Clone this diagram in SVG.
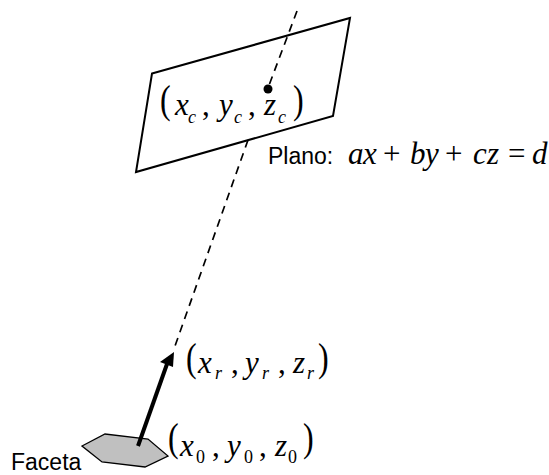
<svg xmlns="http://www.w3.org/2000/svg" width="549" height="475" viewBox="0 0 549 475">
<style>
.m{font-family:"Liberation Serif",serif;font-style:italic;font-size:31px;fill:#000}
.s{font-size:18px}
.n{font-style:normal}
.p{font-family:"Liberation Serif",serif;font-size:40px;fill:#000}
.l{font-family:"Liberation Sans",sans-serif;font-size:23px;fill:#000}
.d{fill:none;stroke:#000;stroke-width:1.700;stroke-dasharray:8 6}
</style>
<rect width="549" height="475" fill="#fff"/>
<g id="plano">
<polygon points="152,73.500 350,18 333,116 136,172" fill="#fff" stroke="#000" stroke-width="2"/>
<text class="p" transform="translate(160 113) scale(.8 1)">(</text>
<text class="m" x="175" y="115">x</text><text class="m s" x="188" y="123">c</text><text class="m n" x="202" y="115">,</text>
<text class="m" x="219" y="115">y</text><text class="m s" x="234" y="123">c</text><text class="m n" x="248" y="115">,</text>
<text class="m" x="264" y="115">z</text><text class="m s" x="278" y="123">c</text>
<text class="p" transform="translate(293 113) scale(.8 1)">)</text>
<text class="l" x="268" y="164">Plano:</text>
<text class="m" y="164" x="348 363">ax<tspan class="n" x="383">+</tspan><tspan x="410 425">by</tspan><tspan class="n" x="445">+</tspan><tspan x="473 487">cz</tspan><tspan class="n" x="508">=</tspan><tspan x="532">d</tspan></text>
</g>
<g id="faceta">
<polygon points="82,446 105,434 148,439 168,456 145,467 102,462" fill="#c0c0c0" stroke="#000" stroke-width="1.300"/>
<text class="l" x="11" y="470">Faceta</text>
<text class="p" transform="translate(168 451) scale(.8 1)">(</text>
<text class="m" x="180" y="456">x</text><text class="m s n" x="196" y="463">0</text><text class="m n" x="212" y="456">,</text>
<text class="m" x="227" y="456">y</text><text class="m s n" x="244" y="463">0</text><text class="m n" x="259" y="456">,</text>
<text class="m" x="275" y="456">z</text><text class="m s n" x="288" y="463">0</text>
<text class="p" transform="translate(303 451) scale(.8 1)">)</text>
</g>
<g id="vector-label">
<text class="p" transform="translate(186 371) scale(.8 1)">(</text>
<text class="m" x="198" y="373">x</text><text class="m s" x="215" y="379">r</text><text class="m n" x="231" y="373">,</text>
<text class="m" x="245" y="373">y</text><text class="m s" x="262" y="379">r</text><text class="m n" x="278" y="373">,</text>
<text class="m" x="293" y="373">z</text><text class="m s" x="307" y="379">r</text>
<text class="p" transform="translate(318 371) scale(.8 1)">)</text>
</g>
<g id="connectors">
<line class="d" x1="297" y1="11" x2="268" y2="88"/>
<line class="d" x1="248" y1="140" x2="175" y2="346"/>
<line x1="138" y1="446" x2="167" y2="364" stroke="#000" stroke-width="4"/>
<polygon points="174,352 160,362 173,367" fill="#000"/>
<circle cx="268" cy="89" r="4.500" fill="#000"/>
</g>
</svg>
